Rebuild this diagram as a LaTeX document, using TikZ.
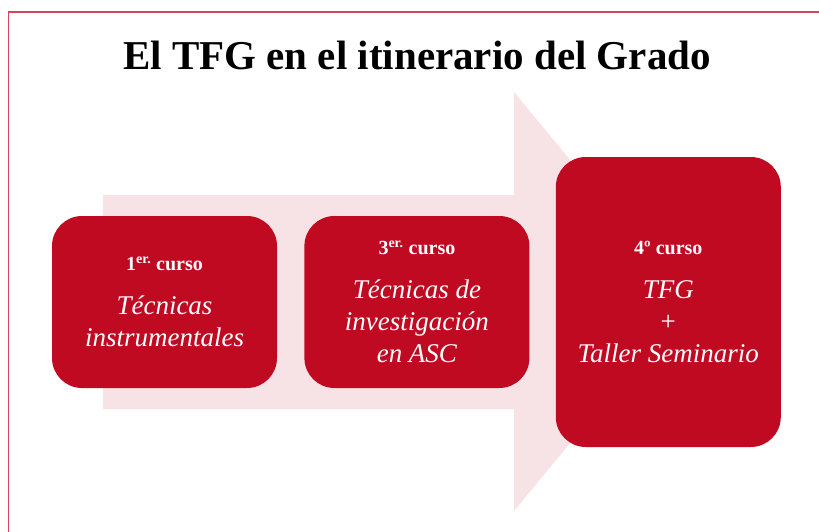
\documentclass[tikz,border=0pt]{standalone}
\usepackage{fontspec}
\setmainfont{Liberation Serif}
\usetikzlibrary{positioning}
\definecolor{grado}{HTML}{C00A22}
\definecolor{flecha}{HTML}{F7E3E5}
\definecolor{marco}{HTML}{D2485A}
\tikzstyle{C} = [rectangle,rounded corners=30pt,fill=grado,text=white,align=center,
  inner sep=0pt,minimum width=225pt,minimum height=172pt,
  font=\fontsize{27}{32}\selectfont\itshape]
\tikzstyle{T} = [C,minimum height=290pt]
\newcommand{\curso}[1]{{\upshape\bfseries\fontsize{20}{22}\selectfont #1}\\[12pt]}

\begin{document}
\begin{tikzpicture}[x=1pt,y=-1pt]
  \useasboundingbox (0,0) rectangle (819,532);
  \draw [marco,line width=1.3pt] (8.5,532) -- (8.5,12) -- (819,12);
  \node [anchor=base,font=\fontsize{41}{45}\selectfont\bfseries] (titulo) at (417,70)
    {El TFG en el itinerario del Grado};

  % flecha de fondo
  \fill [flecha] (103,195) -- (514,195) -- (514,92) -- (687,301.5)
    -- (514,511) -- (514,409) -- (103,409) -- cycle;

  \node [C] (c1) at (164.5,302) {\curso{1\textsuperscript{er.} curso}T\'ecnicas\\instrumentales};
  \node [C,right=27pt of c1] (c3) {\curso{3\textsuperscript{er.} curso}T\'ecnicas de\\investigaci\'on\\en ASC};
  \node [T,right=26pt of c3] (c4) {\curso{4º curso}TFG\\{\upshape +}\\Taller Seminario};
\end{tikzpicture}
\end{document}
